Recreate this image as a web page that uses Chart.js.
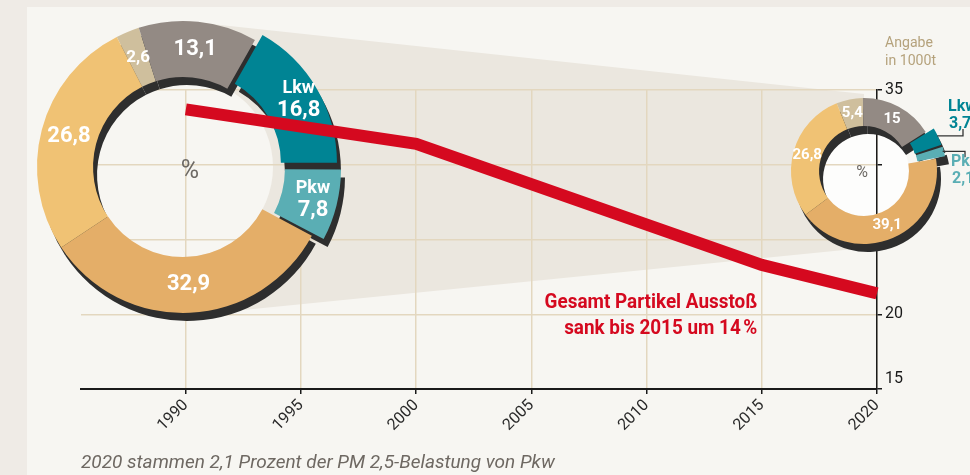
<!DOCTYPE html>
<html><head><meta charset="utf-8">
<script src="https://cdn.jsdelivr.net/npm/chart.js@4.4.1/dist/chart.umd.min.js"></script>
<style>
html,body{margin:0;padding:0;width:970px;height:475px;overflow:hidden;background:#efebe6;}
#wrap{position:relative;width:970px;height:475px;overflow:hidden;}
canvas{position:absolute;}
.txt{position:absolute;white-space:nowrap;}
</style></head><body>
<div id="wrap">
<canvas id="base" width="970" height="475" style="left:0;top:0"></canvas>
<canvas id="bigShadow" width="360" height="360" style="left:7px;top:-5px"></canvas>
<canvas id="smallShadow" width="214" height="214" style="left:761px;top:72px"></canvas>
<canvas id="big" width="360" height="360" style="left:3px;top:-13px"></canvas>
<canvas id="small" width="214" height="214" style="left:757px;top:64px"></canvas>
<canvas id="line" width="970" height="475" style="left:0;top:0"></canvas>
<div class="txt" style="right:213px;top:288px;text-align:right;font:bold 21px Roboto,sans-serif;line-height:26px;color:#d5091f;transform:scaleX(0.9);transform-origin:right center;">Gesamt Partikel Ausstoß<br>sank bis 2015 um 14&#8239;%</div>
<div class="txt" style="left:885px;top:33px;font:15px Roboto,sans-serif;line-height:18px;color:#b5a27c;transform:scaleX(0.94);transform-origin:left center;">Angabe<br>in 1000t</div>
<div class="txt" style="left:81px;top:451px;font:italic 19px Roboto,sans-serif;line-height:22px;color:#6e6862;">2020 stammen 2,1 Prozent der PM 2,5-Belastung von Pkw</div>
</div>
<script>
// ---- data ----
const years = [1990, 2000, 2015, 2020];
const emissions = [33.7, 31.4, 23.3, 21.4];           // 1000 t
const yearTicks = [1990, 1995, 2000, 2005, 2010, 2015, 2020];
const yTickLabels = [15, 20, 35];
const sliceNames = ['', '', 'Lkw', 'Pkw', '', ''];
const shares1990 = [2.6, 13.1, 16.8, 7.8, 32.9, 26.8];  // %
const shares2020 = [5.4, 15, 3.7, 2.1, 39.1, 26.8];     // %

// ---- styles ----
const sliceColors = ['#cfbf9d', '#938a84', '#008494', '#5aaeb4', '#e4ae68', '#f0c274'];
const shadowColor = '#2e2e2e';
const RED = '#d5091f';
const LABEL_FONT = "Roboto,'Liberation Sans',sans-serif";
const TICK_FONT = "Roboto,'Liberation Sans',sans-serif";
const fmt = v => String(v).replace('.', ',');

// geometry of decoration
const BIG = {cx: 183, cy: 167, ro: 146, ri: 90};
const SMALL = {cx: 864, cy: 171, ro: 73, ri: 45};

const decor = {
  id: 'decor',
  beforeDraw(chart) {
    const c = chart.ctx;
    c.save();
    c.fillStyle = '#efebe6'; c.fillRect(0, 0, 970, 475);
    c.fillStyle = '#f7f6f2'; c.fillRect(27, 7, 943, 468);
    c.fillStyle = '#ebe7df';
    c.beginPath();
    c.moveTo(BIG.cx, BIG.cy - BIG.ro);
    c.lineTo(SMALL.cx, 94);
    c.lineTo(SMALL.cx, 248);
    c.lineTo(BIG.cx, BIG.cy + BIG.ro + 3);
    c.closePath(); c.fill();
    c.fillStyle = '#f7f6f2';
    c.beginPath(); c.arc(BIG.cx, BIG.cy, BIG.ri, 0, Math.PI * 2); c.fill();
    c.fillStyle = '#fdfdfc';
    c.beginPath(); c.arc(SMALL.cx, SMALL.cy, SMALL.ri, 0, Math.PI * 2); c.fill();
    c.restore();
  }
};

function lineOptions(visible) {
  const ink = visible ? '#1a1a1a' : 'rgba(0,0,0,0)';
  const gridC = visible ? '#e3d7bf' : 'rgba(0,0,0,0)';
  return {
    responsive: false, animation: false, events: [],
    layout: {padding: {left: 81, top: 90, right: 0, bottom: 0}},
    plugins: {legend: {display: false}, tooltip: {enabled: false}},
    scales: {
      x: {
        type: 'linear', min: 1985.45, max: 2020,
        afterBuildTicks(s) { s.ticks = yearTicks.map(v => ({value: v})); },
        afterFit(s) { s.height = 86; },
        ticks: {minRotation: 45, maxRotation: 45, autoSkip: false, padding: 2,
          color: visible ? '#2a2a2a' : 'rgba(0,0,0,0)', font: {family: TICK_FONT, size: 16},
          callback: v => String(v)},
        grid: {color: gridC, lineWidth: 1.5, tickColor: ink, tickLength: 5, tickWidth: 1.5},
        border: {color: ink, width: 2}
      },
      y: {
        type: 'linear', position: 'right', min: 15, max: 35,
        afterFit(s) { s.width = 93; },
        ticks: {stepSize: 5, padding: 3, color: ink, font: {family: TICK_FONT, size: 16},
          callback: v => yTickLabels.includes(v) ? (v === 15 ? ['15', ''] : String(v)) : ''},
        grid: {color: gridC, lineWidth: 1.5, tickColor: ink, tickLength: 5, tickWidth: 1.5},
        border: {color: ink, width: 1.5}
      }
    }
  };
}

new Chart(document.getElementById('base'), {
  type: 'line', data: {datasets: []}, options: lineOptions(true), plugins: [decor]
});

new Chart(document.getElementById('line'), {
  type: 'line',
  data: {datasets: [{
    data: years.map((y, i) => ({x: y, y: emissions[i]})),
    borderColor: RED, borderWidth: 12, pointRadius: 0, tension: 0,
    borderJoinStyle: 'miter', borderCapStyle: 'butt', clip: false
  }]},
  options: lineOptions(false)
});

// ---- doughnut labels ----
const donutLabels = {
  id: 'donutLabels',
  afterDatasetsDraw(chart, args, o) {
    if (!o.on) return;
    const ctx = chart.ctx;
    const meta = chart.getDatasetMeta(0);
    const vals = chart.data.datasets[0].data;
    ctx.save();
    ctx.textAlign = 'center'; ctx.textBaseline = 'middle';
    meta.data.forEach((arc, i) => {
      const p = arc.getProps(['x', 'y', 'startAngle', 'endAngle', 'innerRadius', 'outerRadius']);
      const off = (arc.options.offset || 0) / 2;   // Chart.js shifts by offset/4 and grows radii by offset/4
      const mid = (p.startAngle + p.endAngle) / 2;
      const name = sliceNames[i];
      if (o.external && name) {
        const r = p.outerRadius + off;
        const x0 = p.x + Math.cos(mid) * r, y0 = p.y + Math.sin(mid) * r;
        const ex = o.external[name];
        ctx.strokeStyle = '#333'; ctx.lineWidth = 1.3;
        ctx.beginPath(); ctx.moveTo(x0 - 2, y0); ctx.lineTo(ex.lx, y0); ctx.lineTo(ex.lx, y0 + ex.dy); ctx.stroke();
        ctx.fillStyle = sliceColors[i]; ctx.textAlign = 'left';
        ctx.font = `bold ${o.extSize}px ${LABEL_FONT}`;
        ctx.fillText(name, ex.tx, ex.ty);
        ctx.fillText(fmt(vals[i]), ex.tx + 1, ex.ty + o.extSize + 1);
        ctx.textAlign = 'center';
        return;
      }
      const rr = (p.innerRadius + p.outerRadius) / 2 + off;
      const x = p.x + Math.cos(mid) * rr, y = p.y + Math.sin(mid) * rr;
      ctx.fillStyle = '#ffffff';
      if (name) {
        ctx.font = `bold ${o.nameSize}px ${LABEL_FONT}`;
        ctx.fillText(name, x, y - o.nameSize * 0.62);
        ctx.font = `bold ${o.valSize}px ${LABEL_FONT}`;
        ctx.fillText(fmt(vals[i]), x, y + o.valSize * 0.5);
      } else {
        const sz = vals[i] < 6 ? o.smallSize : o.valSize;
        ctx.font = `bold ${sz}px ${LABEL_FONT}`;
        ctx.fillText(fmt(vals[i]), x, y);
      }
    });
    const p0 = meta.data[0].getProps(['x', 'y']);
    ctx.fillStyle = '#6d6964';
    ctx.font = `${o.pctSize}px ${TICK_FONT}`;
    ctx.fillText('%', p0.x + o.pctDx, p0.y + o.pctDy);
    ctx.restore();
  }
};

function donut(id, values, shadow, rot, offset, pad, labelOpts) {
  return new Chart(document.getElementById(id), {
    type: 'doughnut',
    data: {labels: sliceNames, datasets: [{
      data: values,
      backgroundColor: shadow ? values.map(() => shadowColor) : sliceColors,
      borderWidth: 0,
      offset: ctx => sliceNames[ctx.dataIndex] ? offset : 0
    }]},
    options: {
      responsive: false, animation: false, events: [],
      rotation: rot, cutout: '61.6%',
      layout: {padding: pad},
      plugins: {legend: {display: false}, tooltip: {enabled: false},
        donutLabels: shadow ? {on: false} : labelOpts}
    },
    plugins: [donutLabels]
  });
}

const bigLabels = {on: true, valSize: 22, smallSize: 17, nameSize: 18, pctSize: 25, pctDx: 7, pctDy: 5};
const smallLabels = {on: true, valSize: 15, smallSize: 15, nameSize: 15, pctSize: 16, pctDx: -2, pctDy: 2,
  extSize: 16,
  external: {Lkw: {lx: 206, dy: -7, tx: 191, ty: 43}, Pkw: {lx: 208, dy: 6, tx: 194, ty: 98}}};

donut('bigShadow', shares1990, true, -27, 32, 18, null);
donut('big', shares1990, false, -27, 32, 18, bigLabels);
donut('smallShadow', shares2020, true, -22, 20, 24, null);
donut('small', shares2020, false, -22, 20, 24, smallLabels);
</script>
</body></html>
